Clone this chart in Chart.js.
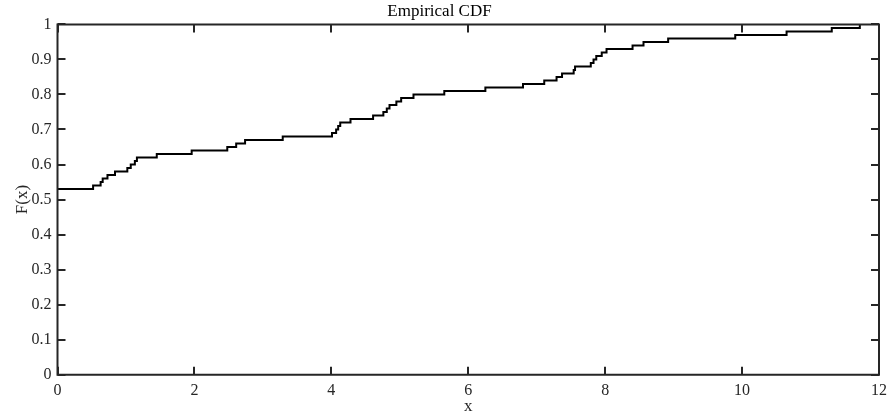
<!DOCTYPE html>
<html>
<head>
<meta charset="utf-8">
<script src="https://cdn.jsdelivr.net/npm/chart.js@4.4.1/dist/chart.umd.min.js"></script>
<style>
html,body{margin:0;padding:0;background:#fff;}
#wrap{width:896px;height:417px;}
</style>
</head>
<body>
<div id="wrap"><canvas id="c" width="896" height="417"></canvas></div>
<script>
// Step locations (x) of the empirical CDF
const xVals = [0, 0.52, 0.63, 0.66, 0.73, 0.84, 1.02, 1.07, 1.13, 1.16, 1.45, 1.96, 2.48, 2.61, 2.74, 3.29,
  4.01, 4.07, 4.10, 4.13, 4.28, 4.61, 4.76, 4.81, 4.85, 4.95, 5.02, 5.20, 5.65, 6.25, 6.80,
  7.11, 7.29, 7.37, 7.54, 7.56, 7.79, 7.83, 7.87, 7.95, 8.02, 8.40, 8.56, 8.92, 9.90, 10.65, 11.31, 11.72];
// F(x) value from each step onward
const fVals = [0.53, 0.54, 0.55, 0.56, 0.57, 0.58, 0.59, 0.60, 0.61, 0.62, 0.63, 0.64, 0.65, 0.66, 0.67, 0.68,
  0.69, 0.70, 0.71, 0.72, 0.73, 0.74, 0.75, 0.76, 0.77, 0.78, 0.79, 0.80, 0.81, 0.82, 0.83,
  0.84, 0.85, 0.86, 0.87, 0.88, 0.89, 0.90, 0.91, 0.92, 0.93, 0.94, 0.95, 0.96, 0.97, 0.98, 0.99, 1.00];
const xTicks = [0, 2, 4, 6, 8, 10, 12];
const yTicks = [0, 0.1, 0.2, 0.3, 0.4, 0.5, 0.6, 0.7, 0.8, 0.9, 1];
const titleText = 'Empirical CDF';
const xLabel = 'x';
const yLabel = 'F(x)';

const serif = '"Liberation Serif", "Times New Roman", serif';
const axisColor = '#262626';

const boxPlugin = {
  id: 'matlabBox',
  afterDatasetsDraw(chart) {
    const {ctx, chartArea: a, scales} = chart;
    const tl = 8;
    ctx.save();
    ctx.strokeStyle = axisColor;
    ctx.lineWidth = 2;
    ctx.lineCap = 'butt';
    ctx.beginPath();
    ctx.rect(a.left, a.top, a.right - a.left, a.bottom - a.top);
    ctx.stroke();
    ctx.beginPath();
    xTicks.forEach(v => {
      const px = Math.round(scales.x.getPixelForValue(v));
      ctx.moveTo(px, a.bottom); ctx.lineTo(px, a.bottom - tl);
      ctx.moveTo(px, a.top); ctx.lineTo(px, a.top + tl);
    });
    yTicks.forEach(v => {
      const py = Math.round(scales.y.getPixelForValue(v));
      ctx.moveTo(a.left, py); ctx.lineTo(a.left + tl, py);
      ctx.moveTo(a.right, py); ctx.lineTo(a.right - tl, py);
    });
    ctx.stroke();
    ctx.restore();
  }
};

new Chart(document.getElementById('c'), {
  type: 'line',
  data: {
    datasets: [{
      data: xVals.map((x, i) => ({x: x, y: fVals[i]})),
      borderColor: '#000',
      borderWidth: 2,
      pointRadius: 0,
      fill: false,
      stepped: true,
      tension: 0
    }]
  },
  options: {
    responsive: false,
    animation: false,
    layout: {padding: {left: 0, right: 17, top: 0, bottom: 0}},
    plugins: {
      legend: {display: false},
      tooltip: {enabled: false},
      title: {
        display: true,
        text: titleText,
        color: '#000',
        font: {family: serif, size: 17, weight: 'normal'},
        padding: {top: 1, bottom: 3}
      }
    },
    scales: {
      x: {
        type: 'linear',
        min: 0, max: 12,
        afterFit: s => { s.height = 42.3; },
        afterBuildTicks: s => { s.ticks = xTicks.map(v => ({value: v})); },
        grid: {display: false, drawTicks: false},
        border: {display: false},
        ticks: {
          color: '#262626', padding: 6, maxRotation: 0,
          font: {family: serif, size: 16},
          callback: v => String(v)
        },
        title: {display: true, text: xLabel, color: '#262626',
          font: {family: serif, size: 17}, padding: {top: -3, bottom: 0}}
      },
      y: {
        type: 'linear',
        min: 0, max: 1,
        afterFit: s => { s.width = 57.5; },
        afterBuildTicks: s => { s.ticks = yTicks.map(v => ({value: v})); },
        grid: {display: false, drawTicks: false},
        border: {display: false},
        ticks: {
          color: '#262626', padding: 6,
          font: {family: serif, size: 16},
          callback: v => String(Math.round(v * 10) / 10)
        },
        title: {display: true, text: yLabel, color: '#262626',
          font: {family: serif, size: 17}, padding: {top: 12, bottom: 0}}
      }
    }
  },
  plugins: [boxPlugin]
});
</script>
</body>
</html>
